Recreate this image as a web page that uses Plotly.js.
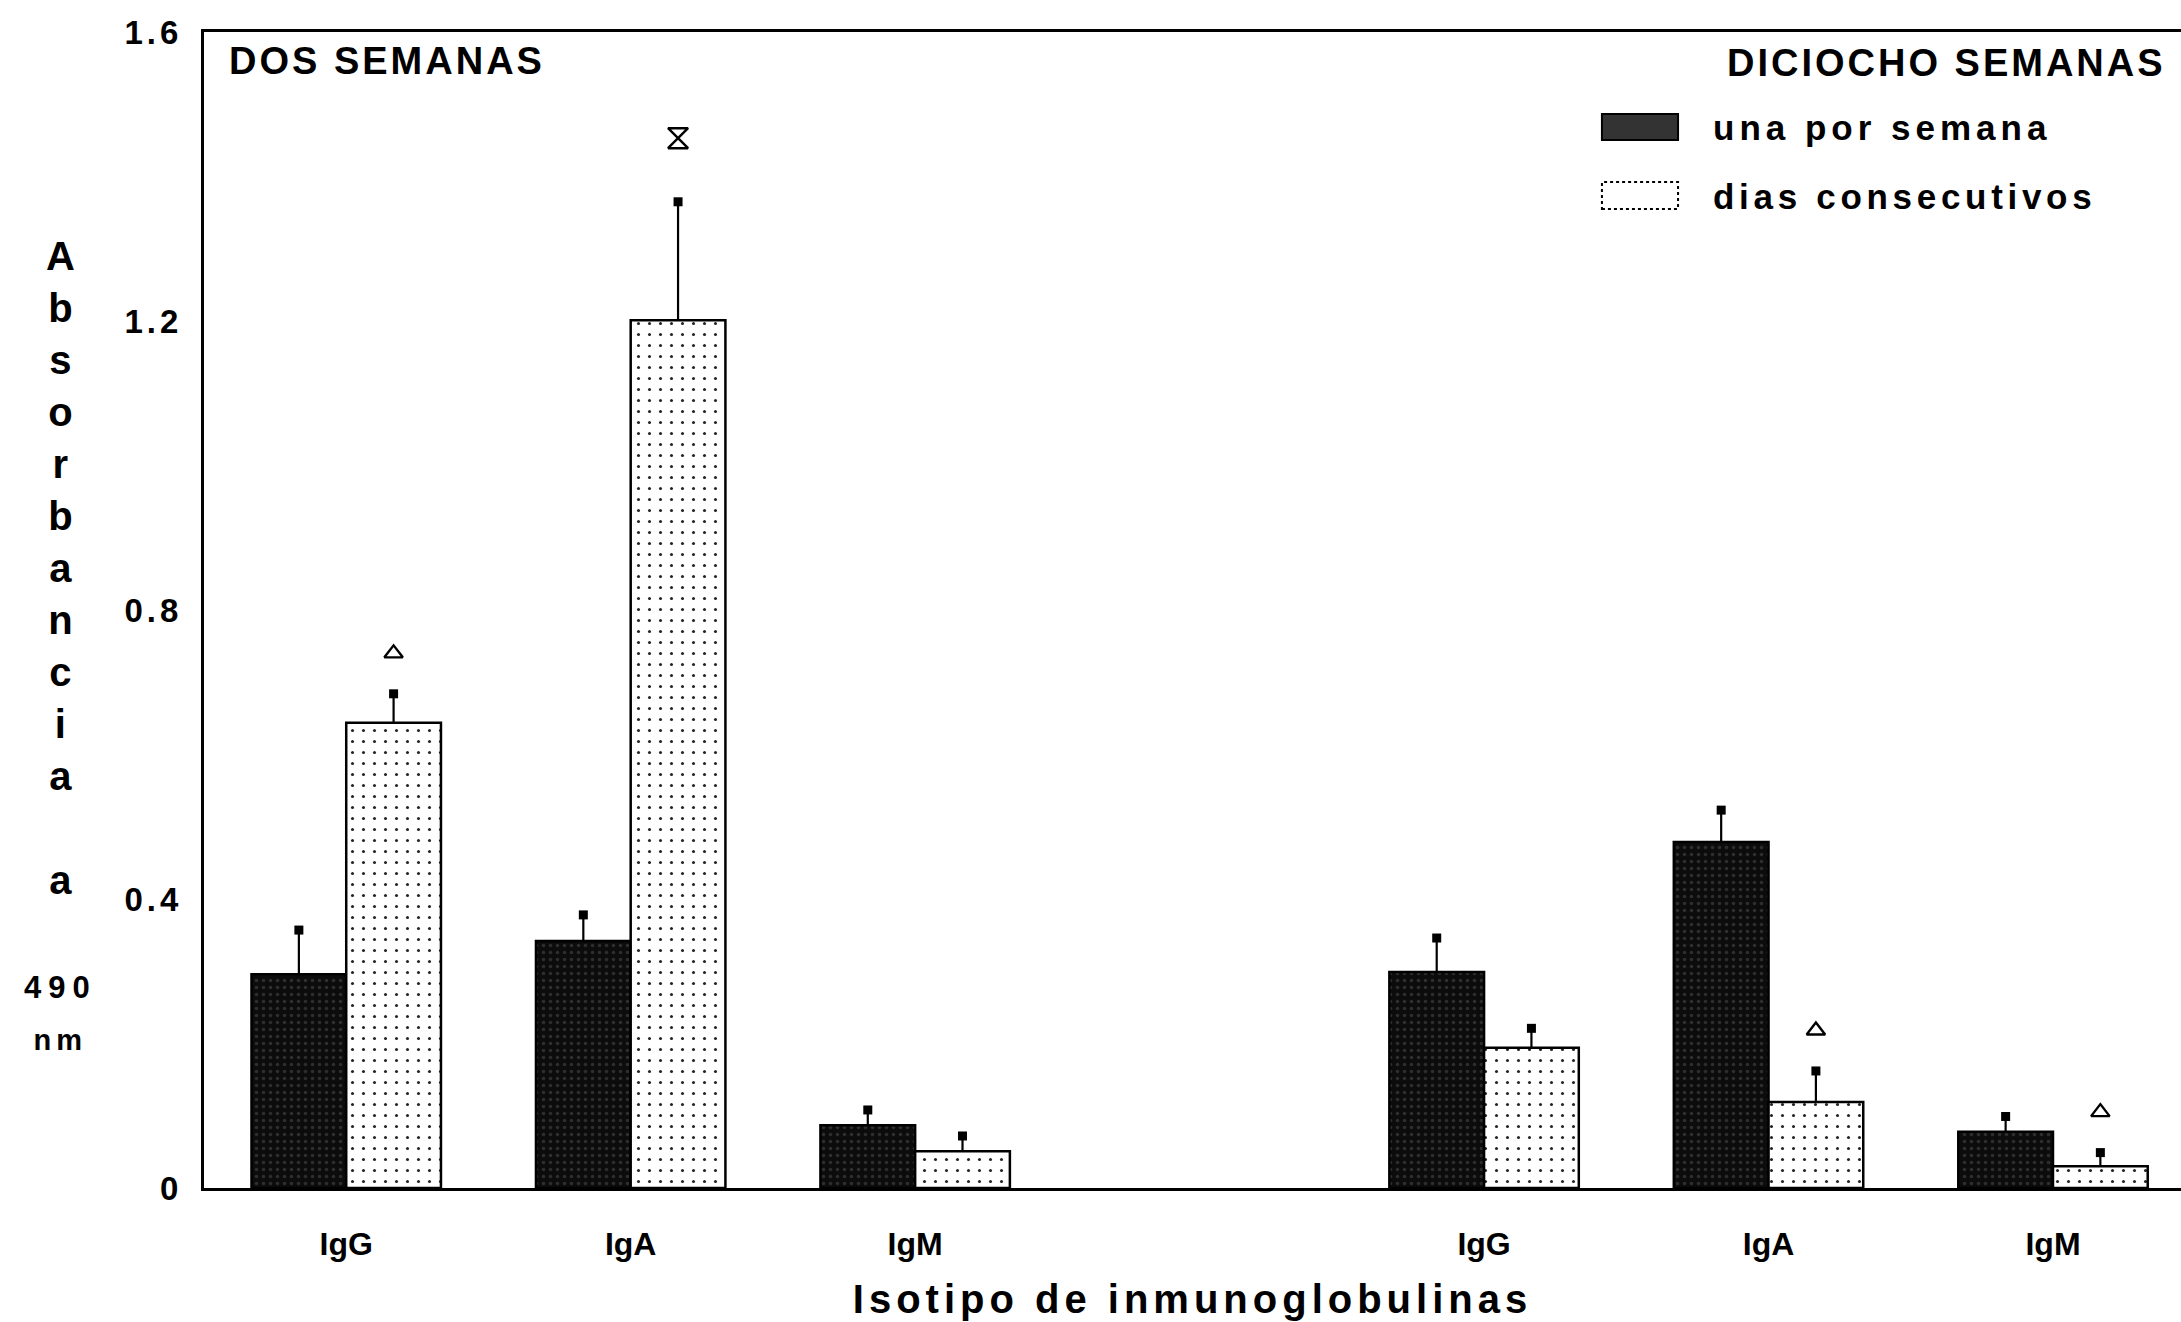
<!DOCTYPE html>
<html>
<head>
<meta charset="utf-8">
<script src="https://cdn.plot.ly/plotly-3.0.1.min.js"></script>
<style>
  html, body { margin: 0; padding: 0; background: #ffffff; }
  #chart { width: 2181px; height: 1322px; }
</style>
</head>
<body>
<div id="chart"></div>
<script>
// ---------------- data ----------------
const categories = ['IgG', 'IgA', 'IgM'];
const periods = ['DOS SEMANAS', 'DICIOCHO SEMANAS'];
const seriesNames = ['una por semana', 'dias consecutivos'];

const unaPorSemana2  = [0.296, 0.342, 0.087];
const unaPorSemana18 = [0.299, 0.479, 0.078];
const unaErr2  = [0.061, 0.036, 0.021];
const unaErr18 = [0.047, 0.044, 0.021];

const diasConsec2  = [0.644, 1.201, 0.051];
const diasConsec18 = [0.194, 0.119, 0.030];
const diasErr2  = [0.040, 0.164, 0.021];
const diasErr18 = [0.027, 0.043, 0.019];

// significance symbols above the error-bar square ('' = none)
const diasSig2  = ['triangle', 'hourglass', ''];
const diasSig18 = ['', 'triangle', 'triangle'];

const yTickVals = [0, 0.4, 0.8, 1.2, 1.6];
const yTickText = ['0', '0.4', '0.8', '1.2', '1.6'];

// ---------------- build ----------------
const nCat = categories.length;
const xPos = [];
const xText = [];
periods.forEach((p, pi) => categories.forEach((c, ci) => {
  xPos.push(pi * (nCat + 1) + ci);
  xText.push(c);
}));
const una = unaPorSemana2.concat(unaPorSemana18);
const unaErr = unaErr2.concat(unaErr18);
const dias = diasConsec2.concat(diasConsec18);
const diasErr = diasErr2.concat(diasErr18);
const diasSig = diasSig2.concat(diasSig18);
const zeros = una.map(() => 0);

const barW = 0.333;
const xUna = xPos.map(x => x - barW / 2);
const xDias = xPos.map(x => x + barW / 2);
const sigOffset = { triangle: 0.056, hourglass: 0.088 };

const traces = [
  {
    type: 'bar', name: seriesNames[0], x: xPos, y: una,
    width: barW, offset: -barW,
    marker: {
      color: '#0c0c0c',
      line: { color: '#000', width: 2.5 },
      pattern: { shape: '.', bgcolor: '#0c0c0c', fgcolor: '#2e2e2e', size: 7, solidity: 0.2 }
    },
    error_y: { type: 'data', symmetric: false, array: unaErr, arrayminus: zeros,
               color: '#000', thickness: 2.2, width: 0 },
    hoverinfo: 'skip'
  },
  {
    type: 'bar', name: seriesNames[1], x: xPos, y: dias,
    width: barW, offset: 0,
    marker: {
      color: '#ffffff',
      line: { color: '#000', width: 2.5 },
      pattern: { shape: '.', bgcolor: '#ffffff', fgcolor: '#222222', size: 11, solidity: 0.06 }
    },
    error_y: { type: 'data', symmetric: false, array: diasErr, arrayminus: zeros,
               color: '#000', thickness: 2.2, width: 0 },
    hoverinfo: 'skip'
  },
  {
    type: 'scatter', mode: 'markers', x: xUna, y: una.map((v, i) => v + unaErr[i]),
    marker: { symbol: 'square', size: 9, color: '#000' }, cliponaxis: false, hoverinfo: 'skip'
  },
  {
    type: 'scatter', mode: 'markers', x: xDias, y: dias.map((v, i) => v + diasErr[i]),
    marker: { symbol: 'square', size: 9, color: '#000' }, cliponaxis: false, hoverinfo: 'skip'
  }
];

['triangle', 'hourglass'].forEach(sym => {
  const xs = [], ys = [];
  diasSig.forEach((s, i) => {
    if (s === sym) { xs.push(xDias[i]); ys.push(dias[i] + diasErr[i] + sigOffset[sym]); }
  });
  traces.push({
    type: 'scatter', mode: 'markers', x: xs, y: ys, cliponaxis: false, hoverinfo: 'skip',
    marker: {
      symbol: sym === 'triangle' ? 'triangle-up-open' : 'hourglass-open',
      size: sym === 'triangle' ? 16 : 20, color: '#000', line: { color: '#000', width: 2.4 }
    }
  });
});

const FONT = 'Liberation Sans, Arial, Helvetica, sans-serif';
const sp = (t, ls) => '<span style="letter-spacing:' + ls + 'px">' + t + '</span>';

const yTitle = ['A','b','s','o','r','b','a','n','c','i','a','','a','',
                '<span style="font-size:31px;letter-spacing:7px">490</span>',
                '<span style="font-size:29px;letter-spacing:5px">nm</span>'].join('<br>');

const layout = {
  width: 2181, height: 1322,
  margin: { l: 204, r: 0, t: 32, b: 134, pad: 0 },
  paper_bgcolor: '#ffffff', plot_bgcolor: '#ffffff',
  showlegend: false,
  font: { family: FONT, color: '#000' },
  xaxis: {
    range: [-0.5, 6.45],
    tickvals: xPos, ticktext: xText,
    showline: true, linecolor: '#000', linewidth: 3, mirror: true,
    ticks: '', showgrid: false, zeroline: false,
    tickfont: { family: FONT, size: 32, weight: 'bold' },
    ticklabelstandoff: 26,
    title: { text: sp('Isotipo de inmunoglobulinas', 5),
             font: { family: FONT, size: 40, weight: 'bold' }, standoff: 24 }
  },
  yaxis: {
    range: [0, 1.6],
    tickvals: yTickVals, ticktext: yTickText.map(t => sp(t, 4)),
    showline: true, linecolor: '#000', linewidth: 3,
    ticks: '', showgrid: false, zeroline: false,
    tickfont: { family: FONT, size: 33, weight: 'bold' },
    ticklabelstandoff: 12
  },
  shapes: [
    { type: 'rect', xref: 'paper', yref: 'paper', x0: 0.7071, x1: 0.7456, y0: 0.9066, y1: 0.9291,
      fillcolor: '#333333', line: { color: '#000', width: 2 } },
    { type: 'rect', xref: 'paper', yref: 'paper', x0: 0.7071, x1: 0.7456, y0: 0.8469, y1: 0.8702,
      fillcolor: '#ffffff', line: { color: '#000', width: 2, dash: 'dot' } }
  ],
  annotations: [
    { xref: 'paper', yref: 'paper', x: 0.0116, y: 0.975, xanchor: 'left', yanchor: 'middle',
      text: sp(periods[0], 3), showarrow: false, font: { family: FONT, size: 38, weight: 'bold' } },
    { xref: 'paper', yref: 'paper', x: 0.9935, y: 0.973, xanchor: 'right', yanchor: 'middle', align: 'right',
      text: sp(periods[1], 3), showarrow: false, font: { family: FONT, size: 38, weight: 'bold' } },
    { xref: 'paper', yref: 'paper', x: 0.7623, y: 0.9178, xanchor: 'left', yanchor: 'middle',
      text: sp(seriesNames[0], 5), showarrow: false, font: { family: FONT, size: 35, weight: 'bold' } },
    { xref: 'paper', yref: 'paper', x: 0.7623, y: 0.8581, xanchor: 'left', yanchor: 'middle',
      text: sp(seriesNames[1], 4.7), showarrow: false, font: { family: FONT, size: 35, weight: 'bold' } },
    { xref: 'paper', yref: 'paper', x: -0.0728, y: 0.4700, xanchor: 'center', yanchor: 'middle',
      text: yTitle, showarrow: false, font: { family: FONT, size: 40, weight: 'bold' } }
  ]
};

Plotly.newPlot('chart', traces, layout, { displayModeBar: false, staticPlot: true });
</script>
</body>
</html>
